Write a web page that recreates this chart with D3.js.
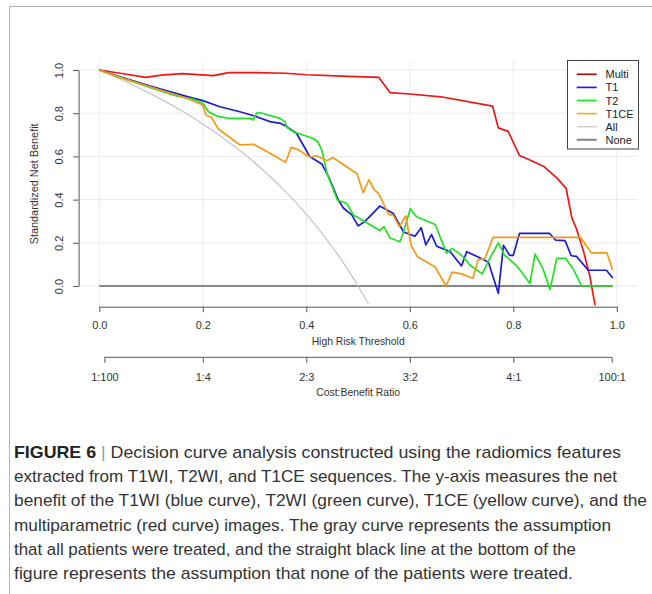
<!DOCTYPE html>
<html>

<head>
    <meta charset="utf-8">
    <style>
        body {
            margin: 0;
            background: white;
        }

        svg {
            font-family: 'Liberation Sans', Arial, sans-serif;
        }

        .tick text {
            font-size: 11px;
            fill: #333;
        }

        .caption {
            font-size: 17px;
            fill: #333;
        }
    </style>
</head>

<body>
    <svg width="652" height="594"></svg>
</body>

<script src="https://d3js.org/d3.v7.min.js"></script>

<script>
    // thresholds (x) and standardized net benefit (y)
    let multiT = [0, 0.04, 0.09, 0.12, 0.16, 0.22, 0.25, 0.30, 0.36, 0.40, 0.47, 0.54, 0.562, 0.60, 0.66, 0.76, 0.771, 0.79, 0.812, 0.83, 0.86, 0.885, 0.902, 0.913, 0.922, 0.935, 0.948, 0.958]
    let multiV = [1.0, 0.985, 0.966, 0.976, 0.983, 0.974, 0.988, 0.988, 0.985, 0.978, 0.972, 0.966, 0.895, 0.889, 0.876, 0.833, 0.732, 0.716, 0.604, 0.586, 0.552, 0.498, 0.452, 0.318, 0.265, 0.167, 0.045, -0.09]

    let t1T = [0, 0.04, 0.10, 0.17, 0.20, 0.233, 0.27, 0.30, 0.33, 0.35, 0.362, 0.381, 0.394, 0.407, 0.43, 0.443, 0.462, 0.472, 0.488, 0.50, 0.513, 0.542, 0.568, 0.588, 0.61, 0.622, 0.631, 0.642, 0.652, 0.678, 0.70, 0.71, 0.736, 0.752, 0.771, 0.781, 0.793, 0.80, 0.812, 0.87, 0.882, 0.90, 0.912, 0.922, 0.945, 0.98, 0.992]
    let t1V = [1, 0.969, 0.925, 0.877, 0.858, 0.83, 0.808, 0.787, 0.761, 0.753, 0.738, 0.707, 0.653, 0.598, 0.565, 0.506, 0.398, 0.36, 0.329, 0.278, 0.298, 0.37, 0.336, 0.25, 0.23, 0.27, 0.19, 0.238, 0.184, 0.159, 0.093, 0.159, 0.13, 0.11, -0.034, 0.188, 0.142, 0.142, 0.244, 0.244, 0.212, 0.21, 0.14, 0.137, 0.073, 0.073, 0.037]

    let t2T = [0, 0.04, 0.104, 0.143, 0.182, 0.20, 0.211, 0.227, 0.249, 0.291, 0.298, 0.304, 0.311, 0.349, 0.359, 0.362, 0.375, 0.414, 0.422, 0.43, 0.44, 0.46, 0.478, 0.491, 0.517, 0.542, 0.55, 0.562, 0.581, 0.587, 0.601, 0.613, 0.649, 0.671, 0.682, 0.703, 0.716, 0.74, 0.754, 0.771, 0.783, 0.808, 0.832, 0.842, 0.857, 0.871, 0.884, 0.901, 0.917, 0.932, 0.992]
    let t2V = [1, 0.966, 0.915, 0.884, 0.864, 0.846, 0.807, 0.787, 0.776, 0.776, 0.769, 0.80, 0.802, 0.776, 0.761, 0.735, 0.714, 0.683, 0.668, 0.63, 0.522, 0.398, 0.383, 0.329, 0.293, 0.257, 0.275, 0.222, 0.205, 0.244, 0.358, 0.321, 0.285, 0.152, 0.174, 0.136, 0.097, 0.056, 0.125, 0.2, 0.143, 0.09, 0.011, 0.148, 0.082, -0.017, 0.128, 0.128, 0.074, 0, 0]

    let t1ceT = [0, 0.04, 0.104, 0.169, 0.20, 0.206, 0.217, 0.23, 0.272, 0.298, 0.311, 0.36, 0.371, 0.385, 0.407, 0.42, 0.44, 0.451, 0.478, 0.498, 0.51, 0.521, 0.532, 0.54, 0.559, 0.568, 0.58, 0.592, 0.603, 0.615, 0.649, 0.67, 0.682, 0.70, 0.722, 0.732, 0.745, 0.761, 0.93, 0.951, 0.981, 0.992]
    let t1ceV = [1, 0.965, 0.918, 0.869, 0.838, 0.792, 0.779, 0.727, 0.653, 0.656, 0.64, 0.573, 0.642, 0.63, 0.596, 0.603, 0.58, 0.595, 0.552, 0.52, 0.432, 0.492, 0.444, 0.428, 0.331, 0.327, 0.275, 0.325, 0.185, 0.135, 0.088, 0.0, 0.064, 0.056, 0.036, 0.122, 0.126, 0.225, 0.225, 0.153, 0.153, 0.074]

    let allT = [0, 0.04, 0.08, 0.12, 0.16, 0.2, 0.24, 0.28, 0.32, 0.36, 0.40, 0.44, 0.48, 0.5, 0.52]
    let allV = [1, 0.958, 0.913, 0.864, 0.81, 0.75, 0.684, 0.611, 0.529, 0.437, 0.333, 0.214, 0.077, 0, -0.083]

    let noneT = [0, 0.992]
    let noneV = [0, 0]

    let xTicks = [0, 0.2, 0.4, 0.6, 0.8, 1.0]
    let yTicks = [0, 0.2, 0.4, 0.6, 0.8, 1.0]
    let costLabels = ["1:100", "1:4", "2:3", "3:2", "4:1", "100:1"]
    let costTicks = [1 / 101, 0.2, 0.4, 0.6, 0.8, 100 / 101]

    let legendNames = ["Multi", "T1", "T2", "T1CE", "All", "None"]

    let captionLines = [
        "Decision curve analysis constructed using the radiomics features",
        "extracted from T1WI, T2WI, and T1CE sequences. The y-axis measures the net",
        "benefit of the T1WI (blue curve), T2WI (green curve), T1CE (yellow curve), and the",
        "multiparametric (red curve) images. The gray curve represents the assumption",
        "that all patients were treated, and the straight black line at the bottom of the",
        "figure represents the assumption that none of the patients were treated."
    ]

    let svg = d3.select("svg")

    // plot region (R's usr box)
    let pLeft = 78.6, pRight = 637.7, pTop = 61, pBottom = 306.7

    let x = d3.scaleLinear().domain([0, 1]).range([99.3, 616.8])
    let y = d3.scaleLinear().domain([0, 1]).range([286, 70])

    // figure frame
    svg.append("path")
        .attr("d", "M9.5,600 V6.5 H660")
        .style("fill", "none")
        .style("stroke", "#b4b4b4")
        .style("stroke-width", 1)

    // grid
    svg.append("g")
        .selectAll("line")
        .data(xTicks)
        .join("line")
        .attr("x1", d => x(d)).attr("x2", d => x(d))
        .attr("y1", pTop).attr("y2", pBottom)
        .style("stroke", "#ebebeb")

    svg.append("g")
        .selectAll("line")
        .data(yTicks)
        .join("line")
        .attr("x1", pLeft).attr("x2", pRight)
        .attr("y1", d => y(d)).attr("y2", d => y(d))
        .style("stroke", "#ebebeb")

    svg.append("clipPath")
        .attr("id", "plotclip")
        .append("rect")
        .attr("x", pLeft).attr("y", pTop)
        .attr("width", pRight - pLeft).attr("height", pBottom - pTop)

    let series = [
        { name: "None", t: noneT, v: noneV, color: "#858585", width: 2.2 },
        { name: "All", t: allT, v: allV, color: "#c4c4c4", width: 1.2 },
        { name: "Multi", t: multiT, v: multiV, color: "#f01515", width: 1.7 },
        { name: "T1", t: t1T, v: t1V, color: "#1c1cd2", width: 1.7 },
        { name: "T2", t: t2T, v: t2V, color: "#22e022", width: 1.7 },
        { name: "T1CE", t: t1ceT, v: t1ceV, color: "#f29a18", width: 1.7 }
    ]

    let line = d3.line()
        .x(d => x(d[0]))
        .y(d => y(d[1]))

    let curves = svg.append("g").attr("clip-path", "url(#plotclip)")

    series.forEach(s => {
        let pts = s.t.map((t, i) => [t, s.v[i]])
        curves.append("path")
            .attr("d", line.curve(s.name == "All" ? d3.curveMonotoneX : d3.curveLinear)(pts))
            .style("fill", "none")
            .style("stroke", s.color)
            .style("stroke-width", s.width)
            .style("stroke-linejoin", "round")
    })

    // y axis, labels parallel to the axis as in R
    let yAxis = svg.append("g")
        .attr("transform", "translate(" + pLeft + ",0)")
        .call(d3.axisLeft(y).tickValues(yTicks).tickFormat(d3.format(".1f")).tickSize(5.5).tickSizeOuter(0))
    yAxis.selectAll("path, line").style("stroke", "#555")
    yAxis.selectAll(".tick text")
        .attr("x", 0).attr("y", 0).attr("dy", null)
        .attr("transform", "translate(-16,0) rotate(-90)")
        .style("text-anchor", "middle")

    svg.append("text")
        .attr("transform", "translate(37.5," + ((pTop + pBottom) / 2) + ") rotate(-90)")
        .style("text-anchor", "middle")
        .style("font-size", "11px")
        .style("fill", "#333")
        .attr("textLength", 121)
        .attr("lengthAdjust", "spacingAndGlyphs")
        .text("Standardized Net Benefit")

    // x axis
    let xAxis = svg.append("g")
        .attr("transform", "translate(0," + pBottom + ")")
        .call(d3.axisBottom(x).tickValues(xTicks).tickFormat(d3.format(".1f")).tickSize(5.5).tickSizeOuter(0))
    xAxis.selectAll("path, line").style("stroke", "#555")
    xAxis.selectAll("text").attr("y", 15).attr("dy", "0.71em")

    svg.append("text")
        .attr("x", (pLeft + pRight) / 2)
        .attr("y", 345)
        .style("text-anchor", "middle")
        .style("font-size", "11px")
        .style("fill", "#333")
        .attr("textLength", 93)
        .attr("lengthAdjust", "spacingAndGlyphs")
        .text("High Risk Threshold")

    // cost:benefit axis
    let cAxis = svg.append("g")
        .attr("transform", "translate(0,357.3)")
        .call(d3.axisBottom(x).tickValues(costTicks).tickFormat((d, i) => costLabels[i]).tickSize(5.5).tickSizeOuter(0))
    cAxis.select(".domain").attr("d", "M" + x(costTicks[0]) + ",0H" + x(costTicks[5]))
    cAxis.selectAll("path, line").style("stroke", "#555")
    cAxis.selectAll("text").attr("y", 16).attr("dy", "0.71em")

    svg.append("text")
        .attr("x", (pLeft + pRight) / 2)
        .attr("y", 396)
        .style("text-anchor", "middle")
        .style("font-size", "11px")
        .style("fill", "#333")
        .attr("textLength", 84)
        .attr("lengthAdjust", "spacingAndGlyphs")
        .text("Cost:Benefit Ratio")

    // legend
    let legend = svg.append("g")
    legend.append("rect")
        .attr("x", 567.5).attr("y", 60.5)
        .attr("width", 71).attr("height", 88.5)
        .style("fill", "white")
        .style("stroke", "#444")

    let legendColor = { Multi: "#a01010", T1: "#1c1cf0", T2: "#22e822", T1CE: "#e6ae3c", All: "#d0d0d0", None: "#8a8a8a" }
    let entries = legend.selectAll(".entry")
        .data(legendNames)
        .join("g")
        .attr("class", "entry")
        .attr("transform", (d, i) => "translate(0," + (74.3 + i * 13.1) + ")")
    entries.append("line")
        .attr("x1", 576.7).attr("x2", 596.7)
        .style("stroke", d => legendColor[d])
        .style("stroke-width", d => d == "None" ? 2.2 : 1.7)
    entries.append("text")
        .attr("x", 605.5).attr("y", 4)
        .style("font-size", "11px")
        .style("fill", "#222")
        .text(d => d)

    // caption
    let capRight = [621, 617, 647, 611, 576, 573]
    let cap = svg.append("g").attr("class", "caption")
    captionLines.forEach((s, i) => {
        let t = cap.append("text")
            .attr("x", 14)
            .attr("y", 458 + i * 24.2)
            .attr("textLength", capRight[i] - 14)
            .attr("lengthAdjust", "spacingAndGlyphs")
        if (i == 0) {
            t.append("tspan").style("font-weight", "bold").style("fill", "#222").text("FIGURE 6")
            t.append("tspan").style("fill", "#999").text(" | ")
        }
        t.append("tspan").text(s)
    })
</script>

</html>
